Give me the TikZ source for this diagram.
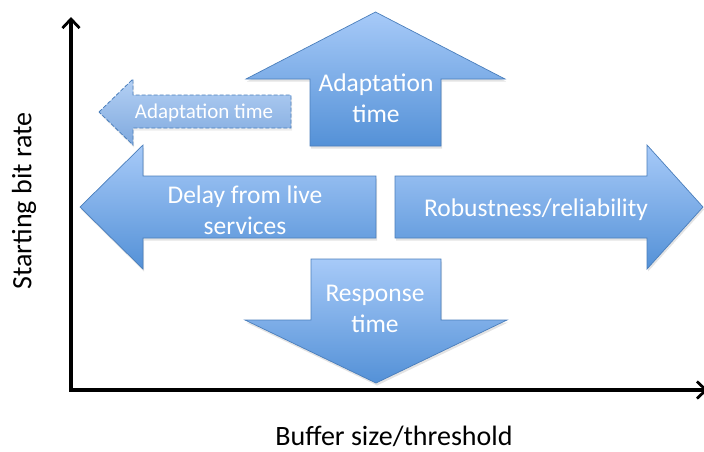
\documentclass[tikz,border=0pt]{standalone}
\usepackage{fontspec}
\setmainfont{Carlito}
\usetikzlibrary{arrows.meta,shadows}
\definecolor{blueTop}{HTML}{A7CAF8}
\definecolor{blueBot}{HTML}{5491D7}
\definecolor{blueLine}{HTML}{4A7EBB}
\definecolor{paleTop}{HTML}{B4D0F4}
\definecolor{paleBot}{HTML}{7FA9DE}

\begin{document}
\begin{tikzpicture}[x=1pt,y=-1pt,
  bigarrow/.style={top color=blueTop,bottom color=blueBot,draw=blueLine,
    line width=0.7pt,line join=miter,
    drop shadow={shadow xshift=1pt,shadow yshift=-2.5pt,opacity=0.22}},
  ghostarrow/.style={top color=paleTop,bottom color=paleBot,draw=blueLine,
    line width=0.8pt,dash pattern=on 4pt off 2pt,line join=miter,
    drop shadow={shadow xshift=1pt,shadow yshift=-2.5pt,opacity=0.15}},
  inlabel/.style={text=white,align=center,inner sep=0pt,
    font=\fontsize{25.5}{31}\selectfont},
  smalllabel/.style={text=white,align=center,inner sep=0pt,
    font=\fontsize{21}{25}\selectfont},
  axislabel/.style={text=black,inner sep=0pt,
    font=\fontsize{28}{33}\selectfont},
  axis/.style={line width=3.2pt,line join=miter,
    {Straight Barb[length=9pt,width=17pt,line width=2.8pt]}-{Straight Barb[length=9pt,width=17pt,line width=2.8pt]}}
]
\useasboundingbox (0,0) rectangle (704,451);

% axes
\coordinate (ytip) at (71,17);
\coordinate (origin) at (71,390);
\coordinate (xtip) at (708,390);
\draw[axis] (ytip) -- (origin) -- (xtip);

% dashed (shorter) adaptation-time arrow
\path[ghostarrow] (99,112) -- (133,79) -- (133,95) -- (291,95) -- (291,128)
  -- (133,128) -- (133,145) -- cycle;
\node[smalllabel] (ghost) at (204,113) {Adaptation time};

% upward arrow
\path[bigarrow] (375.5,12) -- (505,79) -- (441,79) -- (441,146) -- (310,146)
  -- (310,79) -- (246,79) -- cycle;
\node[inlabel] (adapt) at (376,98) {Adaptation\\time};

% left arrow
\path[bigarrow] (80,207) -- (143,145) -- (143,176) -- (376,176) -- (376,238)
  -- (143,238) -- (143,269) -- cycle;
\node[inlabel] (delay) at (245,210) {Delay from live\\services};

% right arrow
\path[bigarrow] (703,207) -- (647,145) -- (647,176) -- (395,176) -- (395,238)
  -- (647,238) -- (647,269) -- cycle;
\node[inlabel] (robust) at (536,210) {Robustness/reliability};

% downward arrow
\path[bigarrow] (376,383) -- (507,320) -- (441,320) -- (441,259) -- (311,259)
  -- (311,320) -- (245,320) -- cycle;
\node[inlabel] (response) at (375,309) {Response\\time};

% axis titles
\node[axislabel,rotate=90] (ylabel) at (24,201) {Starting bit rate};
\node[axislabel,anchor=base] (xlabel) at (394,445.5) {Buffer size/threshold};
\end{tikzpicture}
\end{document}
